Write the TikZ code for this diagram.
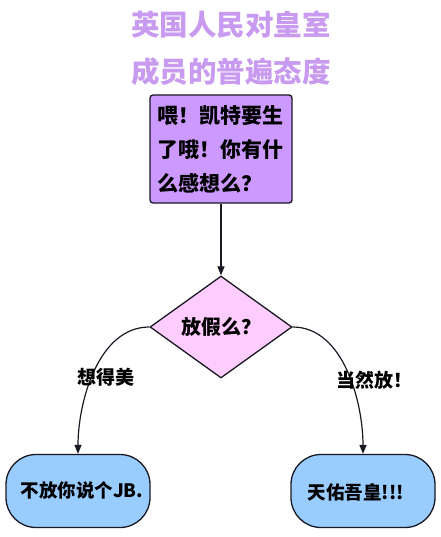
\documentclass[tikz,border=0pt]{standalone}
\usepackage{fontspec}
\newfontfamily\cjk{Noto Sans CJK SC}
\newfontfamily\cjkblack{Noto Sans CJK SC Black}
\usetikzlibrary{shapes.geometric,arrows.meta}
\definecolor{titlec}{RGB}{200,155,240}
\definecolor{boxc}{RGB}{204,153,255}
\definecolor{diac}{RGB}{255,204,255}
\definecolor{termc}{RGB}{153,204,255}
\definecolor{linec}{RGB}{25,25,35}
\tikzset{
  every node/.style={font=\cjk\bfseries},
  titletext/.style={text=titlec, font=\cjkblack\fontsize{28.5}{28.5}\selectfont, inner sep=0},
  qbox/.style={draw=linec, line width=1.3pt, fill=boxc, rounded corners=3pt, minimum width=142pt, minimum height=108pt, inner sep=0, text width=128pt, align=left, font=\cjk\bfseries\fontsize{21}{34}\selectfont},
  decision/.style={diamond, draw=linec, line width=1.3pt, fill=diac, minimum width=142pt, minimum height=102pt, inner sep=0, font=\cjk\bfseries\fontsize{20}{20}\selectfont},
  term/.style={draw=linec, line width=1.3pt, fill=termc, rounded corners=30pt, minimum width=144pt, minimum height=73pt, inner sep=0},
  termtext/.style={inner sep=0, font=\cjk\bfseries\fontsize{18.5}{18.5}\selectfont},
  lbl/.style={inner sep=0, font=\cjk\bfseries\fontsize{19}{19}\selectfont},
  conn/.style={draw=linec, line width=1.2pt, -{Triangle[length=9pt,width=7pt]}}
}
\begin{document}
\begin{tikzpicture}[x=1pt,y=-1pt]
\useasboundingbox (0,0) rectangle (440,537);
\node[titletext] (t1) at (231,25) {英国人民对皇室};
\node[titletext] (t2) at (231,72) {成员的普遍态度};
\node[qbox] (q) at (221,149) {喂！凯特要生\\了哦！你有什\\么感想么？};
\node[decision] (d) at (221,327) {放假么？};
\node[term] (l) at (78,491) {};
\node[termtext] (lt) at (82,490) {不放你说个JB.};
\node[term] (r) at (363,491) {};
\node[termtext] (rt) at (356,492) {天佑吾皇!!!};
\draw[conn] (q.south) -- (d.north);
\draw[conn] (d.west) to[out=180,in=90,looseness=0.9] (l.north);
\draw[conn] (d.east) to[out=0,in=90,looseness=0.9] (r.north);
\node[lbl] (la) at (106,377) {想得美};
\node[lbl] (lb) at (374,380) {当然放！};
\end{tikzpicture}
\end{document}
